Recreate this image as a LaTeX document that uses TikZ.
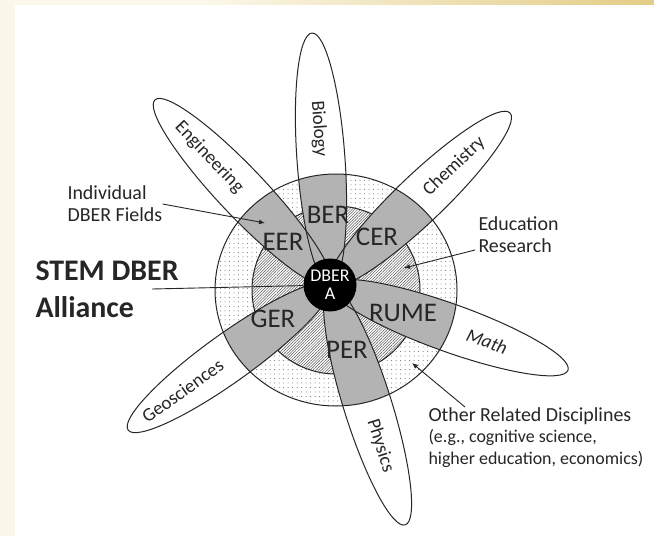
\documentclass[tikz,border=0pt]{standalone}
\usepackage{fontspec}
\setmainfont{Carlito}
\usetikzlibrary{arrows.meta,patterns.meta}

\definecolor{slidecream}{HTML}{FBF8EA}
\definecolor{slidegold}{HTML}{E4CC86}
\definecolor{fieldgray}{HTML}{B3B3B3}
\definecolor{inkgray}{HTML}{262626}

\begin{document}
\begin{tikzpicture}[
    x=1bp, y=-1bp,               % pixel-like units, y runs downwards
    line width=1bp,
    % ~~~ styles ~~~~~~~~~~~~~~~~~~~~~~~~~~~~~~~~~~~~~~~
    outline/.style={draw=inkgray},
    dot fill/.style={pattern={Dots[distance=4.5bp, radius=0.5bp]}, pattern color=black!60},
    hatch fill/.style={pattern={Lines[angle=45, distance=2bp, line width=0.5bp]}, pattern color=black!65},
    hub/.style={circle, fill=black, minimum size=53bp, inner sep=0pt,
        text=white, align=center, font=\fontsize{18}{18}\selectfont},
    petal label/.style={font=\fontsize{19}{19}\selectfont, text=inkgray, inner sep=0pt},
    field label/.style={font=\fontsize{27}{27}\selectfont, text=inkgray, inner sep=0pt},
    note/.style={font=\fontsize{20}{22}\selectfont, text=inkgray, align=left, inner sep=0pt},
    pointer/.style={draw=inkgray, line width=0.9bp, -{Latex[length=6bp, width=5bp]}},
 ]
    % ~~~ slide background ~~~~~~~~~~~~~~
    \fill[slidecream] (0,0) rectangle (654,536);
    \shade[left color=slidecream, right color=slidegold] (200,0) rectangle (654,5);
    \fill[white] (15,5) rectangle (654,536);
    \useasboundingbox (0,0) rectangle (654,536);

    % ~~~ reference points ~~~~~~~~~~~~~~
    \coordinate (C) at (330,285);   % hub of the petals
    \coordinate (R) at (336,290);   % centre of the rings

    % ~~~ rings: related disciplines, education research ~~~~~
    \fill[white] (R) ellipse (121bp and 116bp);
    \path[dot fill] (R) ellipse (121bp and 116bp);
    \fill[white] (R) circle (84bp);
    \path[hatch fill] (R) circle (84bp);
    \draw[outline] (R) circle (84bp);

    % ~~~ petals (angle / half length / label pos / field) ~~~
    \def\petals{94.1/126.3/.62/Biology, 43.7/124.5/.69/Chemistry,
                -19.7/126.4/.66/\itshape Math, -72.6/125.7/.67/Physics,
                215.7/124.3/.73/Geosciences, 133.4/127.4/.69/Engineering}
    \begin{scope}
        \clip (R) ellipse (121bp and 116bp);
        \foreach \ang/\h/\p/\field in \petals
            \fill[fieldgray, shift={(C)}, rotate=\ang] (\h,0) ellipse (\h bp and 24bp);
    \end{scope}
    \draw[outline] (R) ellipse (121bp and 116bp);
    \foreach \ang/\h/\p/\field in \petals {
        \draw[outline, shift={(C)}, rotate=\ang] (\h,0) ellipse (\h bp and 24bp)
            (2*\h,0) coordinate (tip);
        \path (C) -- (tip) node[pos=\p, sloped, petal label] {\field};
    }

    % ~~~ DBER fields inside the rings ~~~~~~~~
    \foreach \x/\y/\n in {328/215/BER, 283/242/EER, 377/237/CER,
                          403/313/RUME, 347/350/PER, 273/319/GER}
        \node[field label] (\n) at (\x,\y) {\n};
    \node[hub] (dber) at (C) {DBER\\A};

    % ~~~ side notes ~~~~~~~~~~~~~~~~~~~~~~~~~~
    \node[note, anchor=west] (fields) at (67,204) {Individual\\DBER Fields};
    \node[note, anchor=west, font=\fontsize{30}{37}\selectfont\bfseries]
        (alliance) at (35,289) {STEM DBER\\Alliance};
    \node[note, anchor=west] (edu) at (478,235) {Education\\Research};
    \node[note, anchor=north west] (other) at (428,407)
        {Other Related Disciplines\\[-1bp]
         \fontsize{18}{21}\selectfont (e.g., cognitive science,\\
         \fontsize{18}{21}\selectfont higher education, economics)};

    % ~~~ pointers ~~~~~~~~~~~~~~~~~~~~~~~~~~~~
    \coordinate (eer tip)   at (265,223);
    \coordinate (edu tip)   at (404,268);
    \coordinate (other tip) at (412,363);
    \draw[pointer] (fields.east) -- (eer tip);
    \draw[pointer] ([xshift=-3bp, yshift=-15bp]edu.west) -- (edu tip);
    \draw[pointer] ([xshift=37bp]other.north west) -- (other tip);
    \draw[outline, line width=0.9bp] ([xshift=-27bp]alliance.east) -- (dber);
\end{tikzpicture}
\end{document}
